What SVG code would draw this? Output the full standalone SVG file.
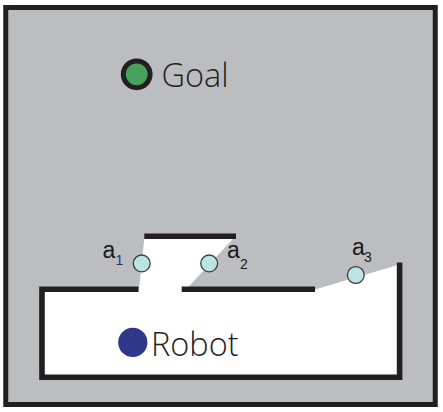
<svg xmlns="http://www.w3.org/2000/svg" width="443" height="412" viewBox="0 0 443 412">
<style>
.wall{fill:none;stroke:#231f20;stroke-width:5.6;stroke-linecap:butt;stroke-linejoin:miter}
.pt{fill:#bfe3e3;stroke:#3a3d40;stroke-width:1.3}
.lbl{font-family:"Liberation Sans",Arial,sans-serif;font-size:23px;fill:#1a1a1a}
.sub{font-family:"Liberation Sans",Arial,sans-serif;font-size:14px;fill:#1a1a1a}
.big{font-family:"Open Sans","Liberation Sans",sans-serif;font-size:32.5px;fill:#231f20;font-weight:300}
</style>
<rect id="frame" x="5.75" y="7.5" width="429.5" height="397" fill="#bcbdc1" stroke="#231f20" stroke-width="5"/>
<g id="room">
<polygon points="42,289.5 139,289.5 144.3,238.5 233.3,238.5 186,289.5 315,289.5 399.5,264.5 399.5,377 42,377" fill="#ffffff"/>
<polyline class="wall" points="138.5,289.3 42,289.3 42,377.2 399.6,377.2 399.6,262.6"/>
<line class="wall" x1="181.7" y1="289.3" x2="315" y2="289.3"/>
<line class="wall" x1="144.3" y1="236.2" x2="236" y2="236.2"/>
</g>
<g id="goal">
<circle cx="136.7" cy="74.3" r="13.4" fill="#48a05a" stroke="#231f20" stroke-width="5"/>
<text class="big" x="161.5" y="86.8">Goal</text>
</g>
<g id="robot">
<circle cx="132.8" cy="342.4" r="14.6" fill="#2e378a"/>
<text class="big" x="151" y="356">Robot</text>
</g>
<g id="a1">
<circle class="pt" cx="141.7" cy="263.4" r="8.4"/>
<text class="lbl" x="102.5" y="257.5">a</text>
<text class="sub" x="115.5" y="265" style="fill:#2a2f78">1</text>
</g>
<g id="a2">
<circle class="pt" cx="209.2" cy="263.4" r="8.4"/>
<text class="lbl" x="227" y="257.5">a</text>
<text class="sub" x="240" y="268.5">2</text>
</g>
<g id="a3">
<circle class="pt" cx="355.8" cy="275" r="8.4"/>
<text class="lbl" x="352" y="255">a</text>
<text class="sub" x="364" y="261.5">3</text>
</g>
</svg>
